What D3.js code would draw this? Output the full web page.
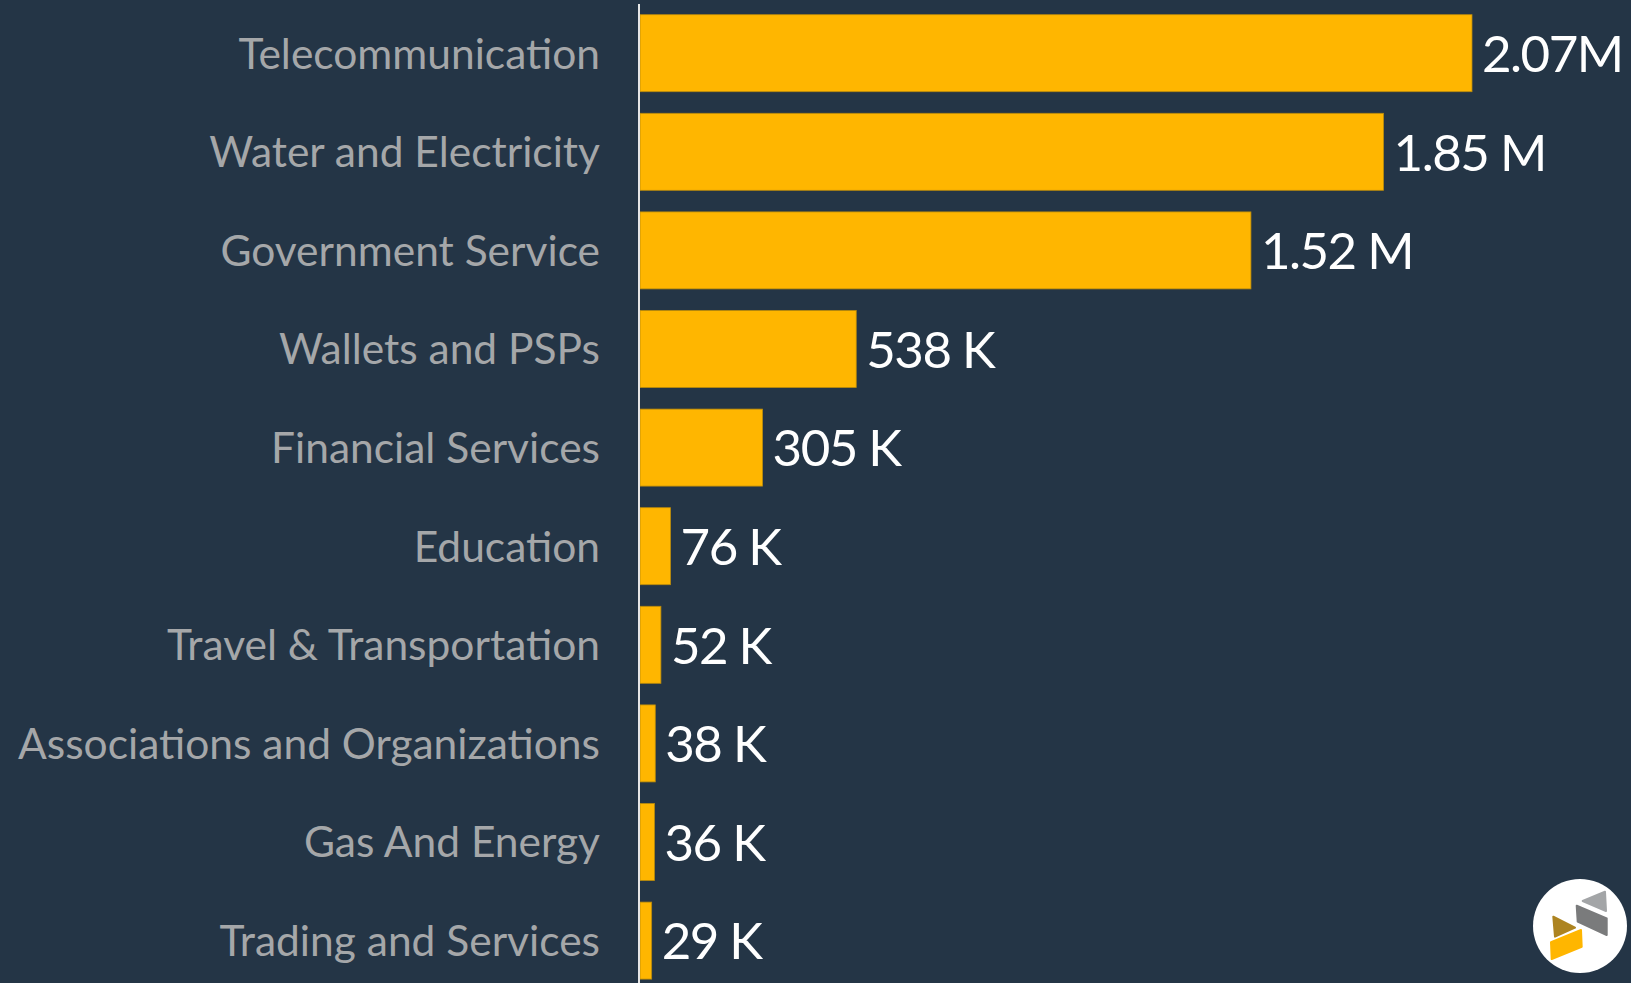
<!DOCTYPE html>
<html>
<head>
<meta charset="utf-8">
<script src="https://cdn.jsdelivr.net/npm/d3@7"></script>
<style>
  html, body { margin: 0; padding: 0; background: #243546; }
  svg { display: block; }
</style>
</head>
<body>
<script>
// Transaction counts by merchant category
const categories = [
  "Telecommunication",
  "Water and Electricity",
  "Government Service",
  "Wallets and PSPs",
  "Financial Services",
  "Education",
  "Travel & Transportation",
  "Associations and Organizations",
  "Gas And Energy",
  "Trading and Services"
];
const values = [2070000, 1850000, 1520000, 538000, 305000, 76000, 52000, 38000, 36000, 29000];
const valueLabels = ["2.07M", "1.85 M", "1.52 M", "538 K", "305 K", "76 K", "52 K", "38 K", "36 K", "29 K"];

const W = 1631, H = 983;
const bg = "#243546";
const barColor = "#FFB600";

const svg = d3.select("body").append("svg")
  .attr("width", W).attr("height", H);

svg.append("rect").attr("width", W).attr("height", H).attr("fill", bg);

const x = d3.scaleLinear().domain([0, d3.max(values)]).range([640, 1472]);
const y = d3.scaleBand().domain(categories).range([3.9, 989.9])
  .paddingInner(0.219).paddingOuter(0.1095);

const rows = categories.map((c, i) => ({ cat: c, v: values[i], label: valueLabels[i] }));

// bars
svg.append("g").selectAll("rect").data(rows).join("rect")
  .attr("x", x(0))
  .attr("y", d => y(d.cat))
  .attr("width", d => x(d.v) - x(0))
  .attr("height", y.bandwidth())
  .attr("fill", barColor)
  .attr("stroke", "#b98a0c")
  .attr("stroke-width", 0.8);

// category axis
const yAxis = svg.append("g")
  .attr("transform", `translate(${x(0) - 1},0)`)
  .call(d3.axisLeft(y).tickSize(0).tickPadding(39));
yAxis.select(".domain").remove();
yAxis.append("line")
  .attr("x1", 0).attr("x2", 0).attr("y1", 4).attr("y2", H)
  .attr("stroke", "#e6e6e6").attr("stroke-width", 2);
yAxis.selectAll(".tick text")
  .attr("fill", "#a5a7a9")
  .attr("font-family", "Lato, sans-serif")
  .attr("font-weight", 400)
  .attr("font-size", 42.5)
  .attr("dy", "0.36em");

// value labels
svg.append("g").selectAll("text").data(rows).join("text")
  .attr("x", d => x(d.v) + 10)
  .attr("y", d => y(d.cat) + y.bandwidth() / 2)
  .attr("dy", "0.37em")
  .attr("fill", "#ffffff")
  .attr("font-family", "Lato, sans-serif")
  .attr("font-size", 51)
  .attr("letter-spacing", -1.5)
  .text(d => d.label);

// brand mark
const logo = svg.append("g").attr("transform", "translate(1580,926)");
logo.append("circle").attr("r", 47).attr("fill", "#ffffff");
const shapes = [
  { fill: "#a3a5a7", pts: [[2.7, -25], [25, -34.3], [26, -15]] },
  { fill: "#7a7b7c", pts: [[-3.3, -20.3], [26.7, -7.7], [26.7, 9], [-2.3, -4.3]] },
  { fill: "#ad8421", pts: [[-26.7, -9.3], [-5, 1.7], [-25, 10.7]] },
  { fill: "#ffb600", pts: [[-29, 16.3], [1, 4], [1.7, 20.7], [-28.3, 33]] }
];
logo.selectAll("path").data(shapes).join("path")
  .attr("d", d => d3.line()(d.pts) + "Z")
  .attr("fill", d => d.fill)
  .attr("stroke", d => d.fill)
  .attr("stroke-width", 2)
  .attr("stroke-linejoin", "round");
</script>
</body>
</html>
